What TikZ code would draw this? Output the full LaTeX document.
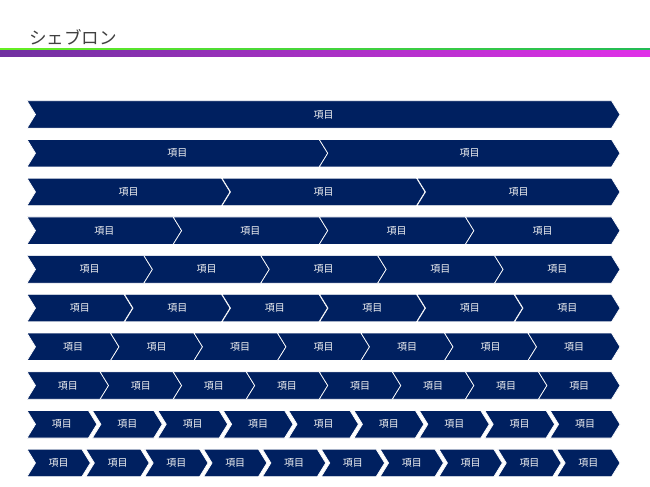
\documentclass[tikz,border=0pt]{standalone}
\usepackage{fontspec}
\setmainfont{Noto Sans CJK JP}
\usetikzlibrary{shapes}

\definecolor{navy}{HTML}{002060}
\definecolor{titlegray}{HTML}{404040}
\definecolor{limeleft}{HTML}{66EE22}
\definecolor{limeright}{HTML}{22BB55}
\definecolor{purpleleft}{HTML}{7030A0}
\definecolor{purpleright}{HTML}{E030E8}

\begin{document}
\begin{tikzpicture}[x = 0.03cm, y = -0.03cm]
	\tikzstyle{chevronStyle} = [fill = navy, draw = white, line width = 0.6pt, line join = miter]
	\tikzstyle{itemStyle} = [text = white!92!gray, inner sep = 0pt, font = \fontsize{8.5pt}{10pt}\selectfont]
	\tikzstyle{titleStyle} = [anchor = west, text = titlegray, inner sep = 0pt, font = \fontsize{15pt}{18pt}\selectfont]
	\useasboundingbox (0,0) rectangle (650,487);
	% title and header bar
	\node[titleStyle] (title) at (29,37) {シェブロン};
	\shade[left color = limeleft, right color = limeright] (0,48.6) rectangle (650,51);
	\shade[left color = purpleleft, right color = purpleright] (0,51) rectangle (650,56.5);
	% rows of chevrons, row n has n items
	\foreach \n/\g in {1/0, 2/0, 3/0.5, 4/0, 5/0, 6/0.5, 7/0, 8/0, 9/4, 10/4} {
		\pgfmathsetmacro\w{(593+(\n-1)*(8.5-\g))/\n}
		\pgfmathsetmacro\p{\w-8.5+\g}
		\pgfmathsetmacro\yc{114.5+(\n-1)*38.72}
		\foreach \i in {1,...,\n} {
			\pgfmathsetmacro\xl{27+(\i-1)*\p}
			\filldraw[chevronStyle] (\xl,\yc-13.75) -- ++(\w-8.5,0) -- ++(8.5,13.75) -- ++(-8.5,13.75)
				-- ++(-\w+8.5,0) -- ++(8.5,-13.75) -- cycle;
			\node[itemStyle] (c\n-\i) at (\xl+\w/2,\yc) {項目};
		}
	}
\end{tikzpicture}
\end{document}
